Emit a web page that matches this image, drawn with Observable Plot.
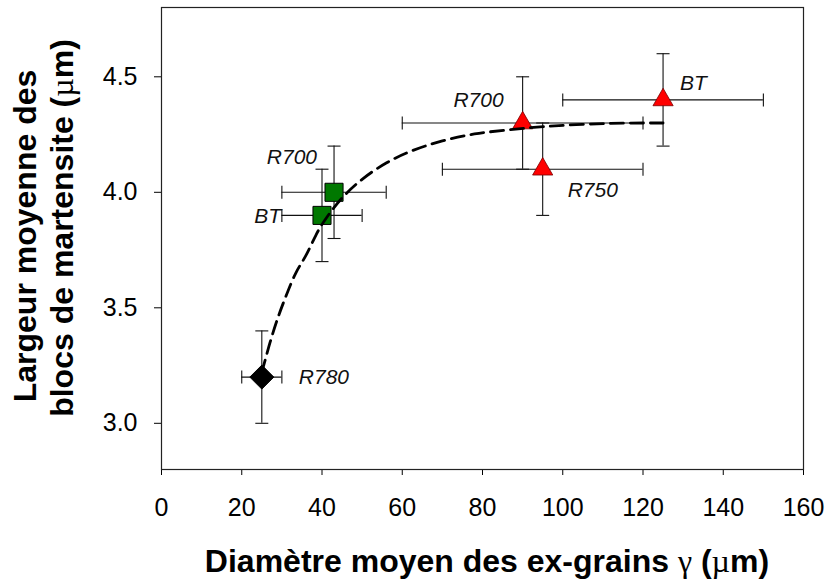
<!DOCTYPE html>
<html><head><meta charset="utf-8">
<script src="https://cdn.jsdelivr.net/npm/d3@7"></script>
<script src="https://cdn.jsdelivr.net/npm/@observablehq/plot@0.6"></script>
<style>body{margin:0;background:#fff}</style>
</head><body><div id="chart"></div>
<script>
// ---- data ----
const labels = ["R780", "BT", "R700", "R700", "R750", "BT"];
const groups = ["black", "green", "green", "red", "red", "red"];
const xMean  = [25, 40, 43, 90, 95, 125];
const yMean  = [3.2, 3.9, 4.0, 4.3, 4.1, 4.4];
const xLow   = [20, 30, 30, 60, 70, 100];
const xHigh  = [30, 50, 56, 120, 120, 150];
const yLow   = [3.0, 3.7, 3.8, 4.1, 3.9, 4.2];
const yHigh  = [3.4, 4.1, 4.2, 4.5, 4.3, 4.6];
// dashed fit curve
const fitX = [25, 27, 29, 31, 33.5, 36, 38.5, 41, 45, 50, 56, 62, 70, 78, 86, 95, 105, 115, 125];
const fitY = [3.22, 3.35, 3.46, 3.55, 3.66, 3.72, 3.82, 3.89, 3.98, 4.06, 4.13, 4.18, 4.225, 4.255, 4.27, 4.285, 4.295, 4.30, 4.30];
const xTicks = [0, 20, 40, 60, 80, 100, 120, 140, 160];
const yTicks = [3.0, 3.5, 4.0, 4.5];
const xTitle = ["Diamètre moyen des ex-grains ", "γ", " (", "µ", "m)"];
const yTitle1 = ["Largeur moyenne des"];
const yTitle2 = ["blocs de martensite (", "µ", "m)"];

// ---- build tables ----
const pts = labels.map((l, i) => ({label: l, group: groups[i], x: xMean[i], y: yMean[i],
  xlo: xLow[i], xhi: xHigh[i], ylo: yLow[i], yhi: yHigh[i]}));
const fit = fitX.map((x, i) => ({x, y: fitY[i]}));

const capV = {draw(ctx) { ctx.moveTo(0, -6.5); ctx.lineTo(0, 6.5); }};
const capH = {draw(ctx) { ctx.moveTo(-6.5, 0); ctx.lineTo(6.5, 0); }};
const FONT = "'Liberation Sans', Arial, sans-serif";
const EB = "#111";
const lab = (i, dx, dy, anchor) => Plot.text([pts[i]], {x: "x", y: "y", text: "label", dx, dy,
  textAnchor: anchor, fontSize: 21, fontStyle: "italic", fill: "#111"});

const chart = Plot.plot({
  width: 829, height: 581,
  marginLeft: 161, marginRight: 26, marginTop: 7, marginBottom: 112,
  style: {fontFamily: FONT, fontSize: "25px", background: "white", color: "black"},
  x: {domain: [0, 160], ticks: xTicks, tickSize: 6, tickPadding: 23, label: null, tickFormat: d3.format("d")},
  y: {domain: [2.8, 4.8], ticks: yTicks, tickSize: 7, tickPadding: 17, label: null, tickFormat: d3.format(".1f")},
  marks: [
    Plot.frame({stroke: "#222", strokeWidth: 1.2}),
    Plot.ruleY(pts, {y: "y", x1: "xlo", x2: "xhi", stroke: EB, strokeWidth: 1.1}),
    Plot.ruleX(pts, {x: "x", y1: "ylo", y2: "yhi", stroke: EB, strokeWidth: 1.1}),
    Plot.dot(pts, {x: "xlo", y: "y", symbol: capV, stroke: EB, strokeWidth: 1.1}),
    Plot.dot(pts, {x: "xhi", y: "y", symbol: capV, stroke: EB, strokeWidth: 1.1}),
    Plot.dot(pts, {x: "x", y: "ylo", symbol: capH, stroke: EB, strokeWidth: 1.1}),
    Plot.dot(pts, {x: "x", y: "yhi", symbol: capH, stroke: EB, strokeWidth: 1.1}),
    Plot.dot(pts.filter(d => d.group === "black"), {x: "x", y: "y", symbol: "diamond2", r: 10.8, fill: "black", stroke: "black", strokeWidth: 1}),
    Plot.dot(pts.filter(d => d.group === "green"), {x: "x", y: "y", symbol: "square", r: 10.2, fill: "#007800", stroke: "black", strokeWidth: 1}),
    Plot.dot(pts.filter(d => d.group === "red"), {x: "x", y: "y", symbol: "triangle", r: 7.5, fill: "#ff0000", stroke: "#700", strokeWidth: 0.8}),
    Plot.line(fit, {x: "x", y: "y", curve: "basis", stroke: "black", strokeWidth: 2.8, strokeDasharray: "13,7"}),
    lab(0, 37, 0, "start"),
    lab(1, -41, 1, "end"),
    lab(2, -17, -35, "end"),
    lab(3, -19, -23, "end"),
    lab(4, 25, 21, "start"),
    lab(5, 17, -17, "start")
  ]
});
document.getElementById("chart").appendChild(chart);

const svg = d3.select(chart);
function addTitle(parts, x, y, rotate) {
  const t = svg.append("text").attr("text-anchor", "middle")
    .attr("transform", `translate(${x},${y})` + (rotate ? " rotate(-90)" : ""))
    .style("font-family", FONT).style("font-weight", "bold").style("font-size", "32px").attr("fill", "black");
  parts.forEach(p => {
    const s = t.append("tspan").text(p);
    if (p === "γ" || p === "µ") s.style("font-family", "'Liberation Serif', 'DejaVu Serif', serif").style("font-weight", "normal");
  });
}
addTitle(xTitle, 487, 572, false);
addTitle(yTitle1, 36, 236, true);
addTitle(yTitle2, 73, 228, true);
</script>
</body></html>
